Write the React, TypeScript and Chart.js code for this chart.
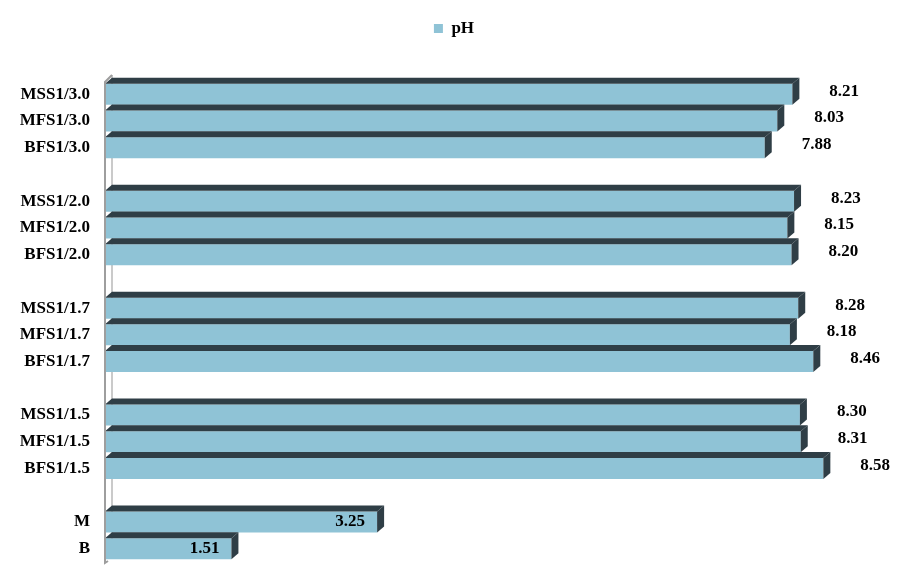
import React, { useEffect, useRef } from "react";
import { Chart, registerables } from "chart.js";

Chart.register(...registerables);

const categories: string[] = [
  "MSS1/3.0", "MFS1/3.0", "BFS1/3.0", "",
  "MSS1/2.0", "MFS1/2.0", "BFS1/2.0", "",
  "MSS1/1.7", "MFS1/1.7", "BFS1/1.7", "",
  "MSS1/1.5", "MFS1/1.5", "BFS1/1.5", "",
  "M", "B",
];

const phValues: (number | null)[] = [
  8.21, 8.03, 7.88, null,
  8.23, 8.15, 8.2, null,
  8.28, 8.18, 8.46, null,
  8.3, 8.31, 8.58, null,
  3.25, 1.51,
];

const seriesLabel = "pH";
const xMin = 0;
const xMax = 9.4;
const insideThreshold = 5;

const FRONT = "#8FC3D6";
const DARK = "#2F3E46";
const WALL = "#9E9E9E";
const FONT_FAMILY = "'Times New Roman', 'Liberation Serif', serif";
const DX = 7;
const DY = 6;

const bar3dPlugin = {
  id: "bar3d",
  beforeDatasetsDraw(chart: any) {
    const { ctx, chartArea } = chart;
    ctx.save();
    ctx.strokeStyle = "#B8B8B8";
    ctx.lineWidth = 1.5;
    ctx.beginPath();
    ctx.moveTo(chartArea.left + DX, chartArea.top - DY);
    ctx.lineTo(chartArea.left + DX, chartArea.bottom - DY);
    ctx.stroke();
    ctx.restore();
  },
  afterDatasetsDraw(chart: any) {
    const { ctx, chartArea } = chart;
    const meta = chart.getDatasetMeta(0);
    ctx.save();
    meta.data.forEach((el: any, i: number) => {
      const v = phValues[i];
      if (v === null || v === undefined) return;
      const { x, y, base, height } = el.getProps(["x", "y", "base", "height"], true);
      const top = y - height / 2;
      const bottom = y + height / 2;
      ctx.fillStyle = DARK;
      ctx.beginPath();
      ctx.moveTo(base, top);
      ctx.lineTo(x, top);
      ctx.lineTo(x + DX, top - DY);
      ctx.lineTo(base + DX, top - DY);
      ctx.closePath();
      ctx.fill();
      ctx.beginPath();
      ctx.moveTo(x, top);
      ctx.lineTo(x + DX, top - DY);
      ctx.lineTo(x + DX, bottom - DY);
      ctx.lineTo(x, bottom);
      ctx.closePath();
      ctx.fill();
      ctx.fillStyle = "#000";
      ctx.font = `bold 17px ${FONT_FAMILY}`;
      ctx.textBaseline = "middle";
      const txt = v.toFixed(2);
      if (v > insideThreshold) {
        ctx.textAlign = "left";
        ctx.fillText(txt, x + 37, y - 3);
      } else {
        ctx.textAlign = "right";
        ctx.fillText(txt, x - 12, y);
      }
    });
    ctx.strokeStyle = WALL;
    ctx.lineWidth = 2;
    ctx.beginPath();
    ctx.moveTo(chartArea.left + DX, chartArea.top - DY);
    ctx.lineTo(chartArea.left, chartArea.top + 1);
    ctx.lineTo(chartArea.left, chartArea.bottom + 1);
    ctx.lineTo(chartArea.left + 3, chartArea.bottom - 1);
    ctx.stroke();
    ctx.restore();
  },
};

export default function App() {
  const canvasRef = useRef<HTMLCanvasElement | null>(null);

  useEffect(() => {
    if (!canvasRef.current) return;
    const chart = new Chart(canvasRef.current, {
      type: "bar",
      data: {
        labels: categories,
        datasets: [
          {
            label: seriesLabel,
            data: phValues as any,
            backgroundColor: FRONT,
            borderWidth: 0,
            barPercentage: 0.785,
            categoryPercentage: 1,
          },
        ],
      },
      options: {
        indexAxis: "y",
        responsive: false,
        animation: false,
        layout: { padding: { top: 10, left: 16, right: 8, bottom: 26 } },
        scales: {
          x: {
            position: "top",
            min: xMin,
            max: xMax,
            ticks: { display: false },
            grid: { display: false },
            border: { display: false },
            afterFit: (s: any) => {
              s.height = 34;
            },
          },
          y: {
            ticks: {
              color: "#000",
              padding: 15,
              font: { family: FONT_FAMILY, size: 17, weight: "bold" },
            },
            grid: { display: false, drawTicks: false },
            border: { display: false },
            afterFit: (s: any) => {
              s.width = 89;
            },
          },
        },
        plugins: {
          legend: {
            display: true,
            position: "top",
            labels: {
              boxWidth: 9,
              boxHeight: 9,
              padding: 10,
              color: "#000",
              font: { family: FONT_FAMILY, size: 17, weight: "bold" },
            },
          },
          tooltip: { enabled: false },
        },
      } as any,
      plugins: [bar3dPlugin],
    });
    return () => chart.destroy();
  }, []);

  return (
    <div style={{ position: "absolute", left: 0, top: 0, width: 900, height: 588, background: "#fff" }}>
      <canvas ref={canvasRef} width={900} height={588} style={{ display: "block" }} />
    </div>
  );
}
